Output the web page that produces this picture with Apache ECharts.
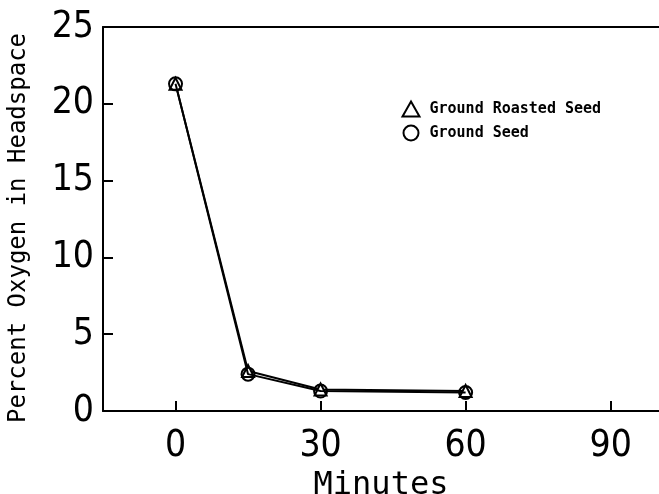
<!DOCTYPE html>
<html>
<head>
<meta charset="utf-8">
<script src="https://cdn.jsdelivr.net/npm/echarts@6/dist/echarts.min.js"></script>
<style>
  html, body { margin: 0; padding: 0; background: #fff; }
  #main { width: 659px; height: 494px; }
</style>
</head>
<body>
<div id="main"></div>
<script>
var minutes = [0, 15, 30, 60];
var roastedSeed = [21.3, 2.6, 1.4, 1.3];
var groundSeed = [21.3, 2.4, 1.3, 1.2];
var xTicks = [0, 30, 60, 90];

var tickFont = "'Liberation Sans Narrow', 'DejaVu Sans Condensed', sans-serif";
var monoFont = "'DejaVu Sans Mono', monospace";

function pairs(xs, ys) {
  return xs.map(function (x, i) { return [x, ys[i]]; });
}

var chart = echarts.init(document.getElementById('main'));
var option = {
  backgroundColor: '#fff',
  animation: false,
  grid: { left: 103, top: 27, right: 0, bottom: 83, outerBoundsMode: 'none' },
  legend: {
    orient: 'vertical',
    left: 395,
    top: 94,
    padding: 5,
    itemWidth: 17,
    itemHeight: 15,
    itemGap: 4,
    textStyle: { fontFamily: monoFont, fontWeight: 'bold', fontSize: 15, lineHeight: 16, color: '#000', padding: [0, 0, 0, 5] },
    data: [
      { name: 'Ground Roasted Seed', icon: 'triangle', itemStyle: { color: 'none', borderColor: '#000', borderWidth: 2 } },
      { name: 'Ground Seed', icon: 'circle', itemStyle: { color: 'none', borderColor: '#000', borderWidth: 2 } }
    ]
  },
  xAxis: [{
    type: 'value',
    min: -15,
    max: 100,
    name: 'Minutes',
    nameLocation: 'middle',
    nameGap: 49,
    nameTextStyle: { fontFamily: monoFont, fontSize: 32, color: '#000' },
    splitLine: { show: false },
    axisLine: { onZero: false, lineStyle: { color: '#000', width: 2 } },
    axisTick: { inside: true, length: 10, customValues: xTicks, lineStyle: { color: '#000', width: 2 } },
    axisLabel: { customValues: xTicks, margin: 17, fontFamily: tickFont, fontSize: 37, color: '#000' }
  }, {
    type: 'value',
    position: 'top',
    min: -15,
    max: 100,
    splitLine: { show: false },
    axisLine: { show: true, onZero: false, lineStyle: { color: '#000', width: 2 } },
    axisTick: { show: false },
    axisLabel: { show: false }
  }],
  yAxis: {
    type: 'value',
    min: 0,
    max: 25,
    interval: 5,
    name: 'Percent Oxygen in Headspace',
    nameLocation: 'middle',
    nameGap: 72,
    nameTextStyle: { fontFamily: monoFont, fontSize: 24, color: '#000', padding: [0, 18, 0, 0] },
    splitLine: { show: false },
    axisLine: { show: true, onZero: false, lineStyle: { color: '#000', width: 2 } },
    axisTick: { inside: true, length: 10, lineStyle: { color: '#000', width: 2 } },
    axisLabel: { margin: 9, fontFamily: tickFont, fontSize: 37, color: '#000' }
  },
  series: [{
    name: 'Ground Roasted Seed',
    type: 'line',
    data: pairs(minutes, roastedSeed),
    symbol: 'triangle',
    symbolSize: 12,
    lineStyle: { color: '#000', width: 2 },
    itemStyle: { color: '#fff', borderColor: '#000', borderWidth: 2 },
    z: 3
  }, {
    name: 'Ground Seed',
    type: 'line',
    data: pairs(minutes, groundSeed),
    symbol: 'circle',
    symbolSize: 13,
    lineStyle: { color: '#000', width: 2 },
    itemStyle: { color: 'none', borderColor: '#000', borderWidth: 2 },
    z: 4
  }]
};
chart.setOption(option);
</script>
</body>
</html>
